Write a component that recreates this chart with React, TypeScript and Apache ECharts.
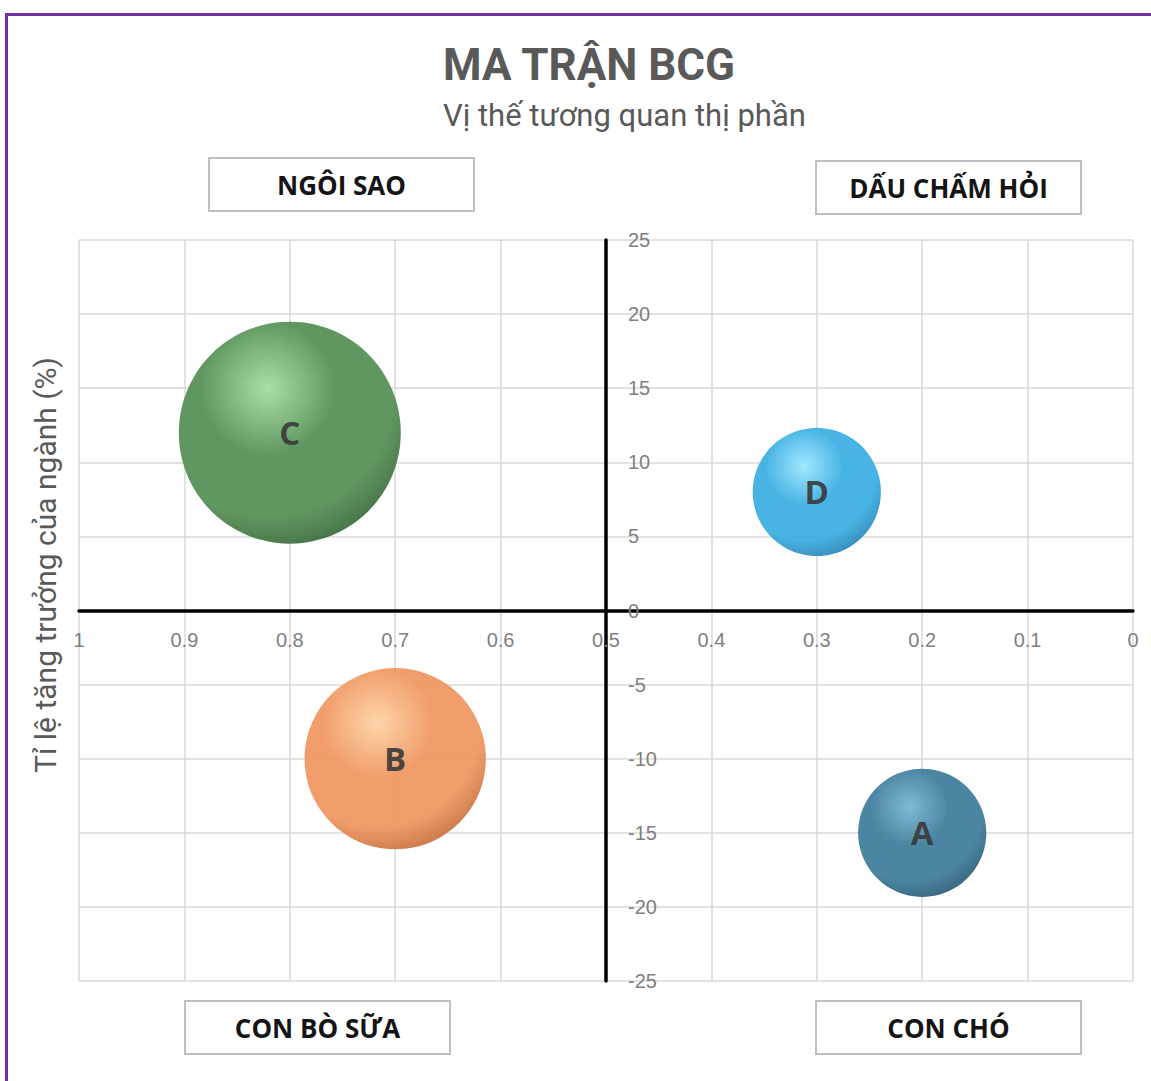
import React, { useEffect, useRef } from "react";
import * as echarts from "echarts";

const bubbleNames = ["A", "B", "C", "D"];
const marketShare = [0.2, 0.7, 0.8, 0.3];
const industryGrowth = [-15, -10, 12, 8];
const bubbleSizes = [10, 20, 30, 10];
const bubbleColors = [
  ["#78b4d2", "#3d7c9c", "#234f66"],
  ["#fdd2a4", "#f09660", "#b8602f"],
  ["#a2dca2", "#548f54", "#305a30"],
  ["#9ae6ff", "#3aaee2", "#2474a6"],
];
const quadrantLabels = ["NGÔI SAO", "DẤU CHẤM HỎI", "CON BÒ SỮA", "CON CHÓ"];
const titleText = "MA TRẬN BCG";
const subtitleText = "Vị thế tương quan thị phần";
const yAxisTitle = "Tỉ lệ tăng trưởng của ngành (%)";

const W = 1151;
const H = 1081;
const GRID_LEFT = 79;
const GRID_RIGHT = 18;
const GRID_TOP = 240;
const GRID_BOTTOM = 100;

function quadBox(label: string, x: number, y: number) {
  return {
    type: "group",
    x,
    y,
    children: [
      {
        type: "rect",
        shape: { x: 0, y: 0, width: 265, height: 53 },
        style: { fill: "#ffffff", stroke: "#bfbfbf", lineWidth: 2 },
      },
      {
        type: "text",
        x: 132.5,
        y: 27,
        style: {
          text: label,
          font: "bold 26px 'Open Sans', sans-serif",
          fill: "#141414",
          textAlign: "center",
          textVerticalAlign: "middle",
        },
      },
    ],
  };
}

export default function App() {
  const ref = useRef<HTMLDivElement>(null);

  useEffect(() => {
    if (!ref.current) return;
    const chart = echarts.init(ref.current, null, { renderer: "svg" });
    const plotW = W - GRID_LEFT - GRID_RIGHT;
    const plotH = H - GRID_TOP - GRID_BOTTOM;
    const maxSize = Math.max(...bubbleSizes);

    const data = bubbleNames.map((n, i) => ({
      name: n,
      value: [marketShare[i], industryGrowth[i], bubbleSizes[i]],
      itemStyle: {
        color: new echarts.graphic.RadialGradient(0.4, 0.3, 0.8, [
          { offset: 0, color: bubbleColors[i][0] },
          { offset: 0.38, color: bubbleColors[i][1] },
          { offset: 0.72, color: bubbleColors[i][1] },
          { offset: 1, color: bubbleColors[i][2] },
        ]),
        opacity: 0.93,
      },
    }));

    chart.setOption({
      animation: false,
      backgroundColor: "#ffffff",
      grid: {
        left: GRID_LEFT,
        right: GRID_RIGHT,
        top: GRID_TOP,
        bottom: GRID_BOTTOM,
      },
      xAxis: {
        type: "value",
        min: 0,
        max: 1,
        interval: 0.1,
        inverse: true,
        position: "bottom",
        offset: -plotH / 2,
        axisLine: { show: true, onZero: false, lineStyle: { color: "#000000", width: 3.5 } },
        axisTick: { show: false },
        axisLabel: {
          color: "#7f7f7f",
          fontSize: 20,
          fontFamily: "'Liberation Sans', Arial, sans-serif",
          margin: 19,
          showMinLabel: true,
          showMaxLabel: true,
          formatter: (v: number) => String(Math.round(v * 10) / 10),
        },
        splitLine: { show: true, lineStyle: { color: "#d9d9d9", width: 1.5 } },
      },
      yAxis: {
        type: "value",
        min: -25,
        max: 25,
        interval: 5,
        position: "left",
        offset: -plotW / 2,
        axisLine: { show: true, onZero: false, lineStyle: { color: "#000000", width: 3.5 } },
        axisTick: { show: false },
        axisLabel: {
          inside: true,
          color: "#7f7f7f",
          fontSize: 20,
          fontFamily: "'Liberation Sans', Arial, sans-serif",
          margin: 22,
        },
        splitLine: { show: true, lineStyle: { color: "#d9d9d9", width: 1.5 } },
      },
      series: [
        {
          type: "scatter",
          data,
          symbol: "circle",
          symbolSize: (v: number[]) => 222 * Math.sqrt(v[2] / maxSize),
          label: {
            show: true,
            position: "inside",
            formatter: (p: any) => p.name,
            color: "#3a3a3a",
            fontSize: 33,
            fontWeight: "bold",
            fontFamily: "'Open Sans', sans-serif",
          },
          z: 5,
        },
      ],
      graphic: [
        {
          type: "rect",
          shape: { x: 6.5, y: 14.5, width: 1300, height: 1300 },
          style: { fill: "none", stroke: "#7030a0", lineWidth: 3 },
          z: 100,
        },
        {
          type: "text",
          x: 443,
          y: 65,
          style: {
            text: titleText,
            font: "bold 44px Roboto, sans-serif",
            fill: "#595959",
            textAlign: "left",
            textVerticalAlign: "middle",
          },
        },
        {
          type: "text",
          x: 443,
          y: 115,
          style: {
            text: subtitleText,
            font: "31px Roboto, sans-serif",
            fill: "#595959",
            textAlign: "left",
            textVerticalAlign: "middle",
          },
        },
        {
          type: "text",
          x: 45,
          y: 565,
          rotation: Math.PI / 2,
          style: {
            text: yAxisTitle,
            font: "30px Roboto, sans-serif",
            fill: "#595959",
            textAlign: "center",
            textVerticalAlign: "middle",
          },
        },
        quadBox(quadrantLabels[0], 209, 158),
        quadBox(quadrantLabels[1], 816, 161),
        quadBox(quadrantLabels[2], 185, 1001),
        quadBox(quadrantLabels[3], 816, 1001),
      ],
    });

    return () => chart.dispose();
  }, []);

  return (
    <div
      ref={ref}
      style={{ position: "fixed", left: 0, top: 0, width: W, height: H }}
    />
  );
}
